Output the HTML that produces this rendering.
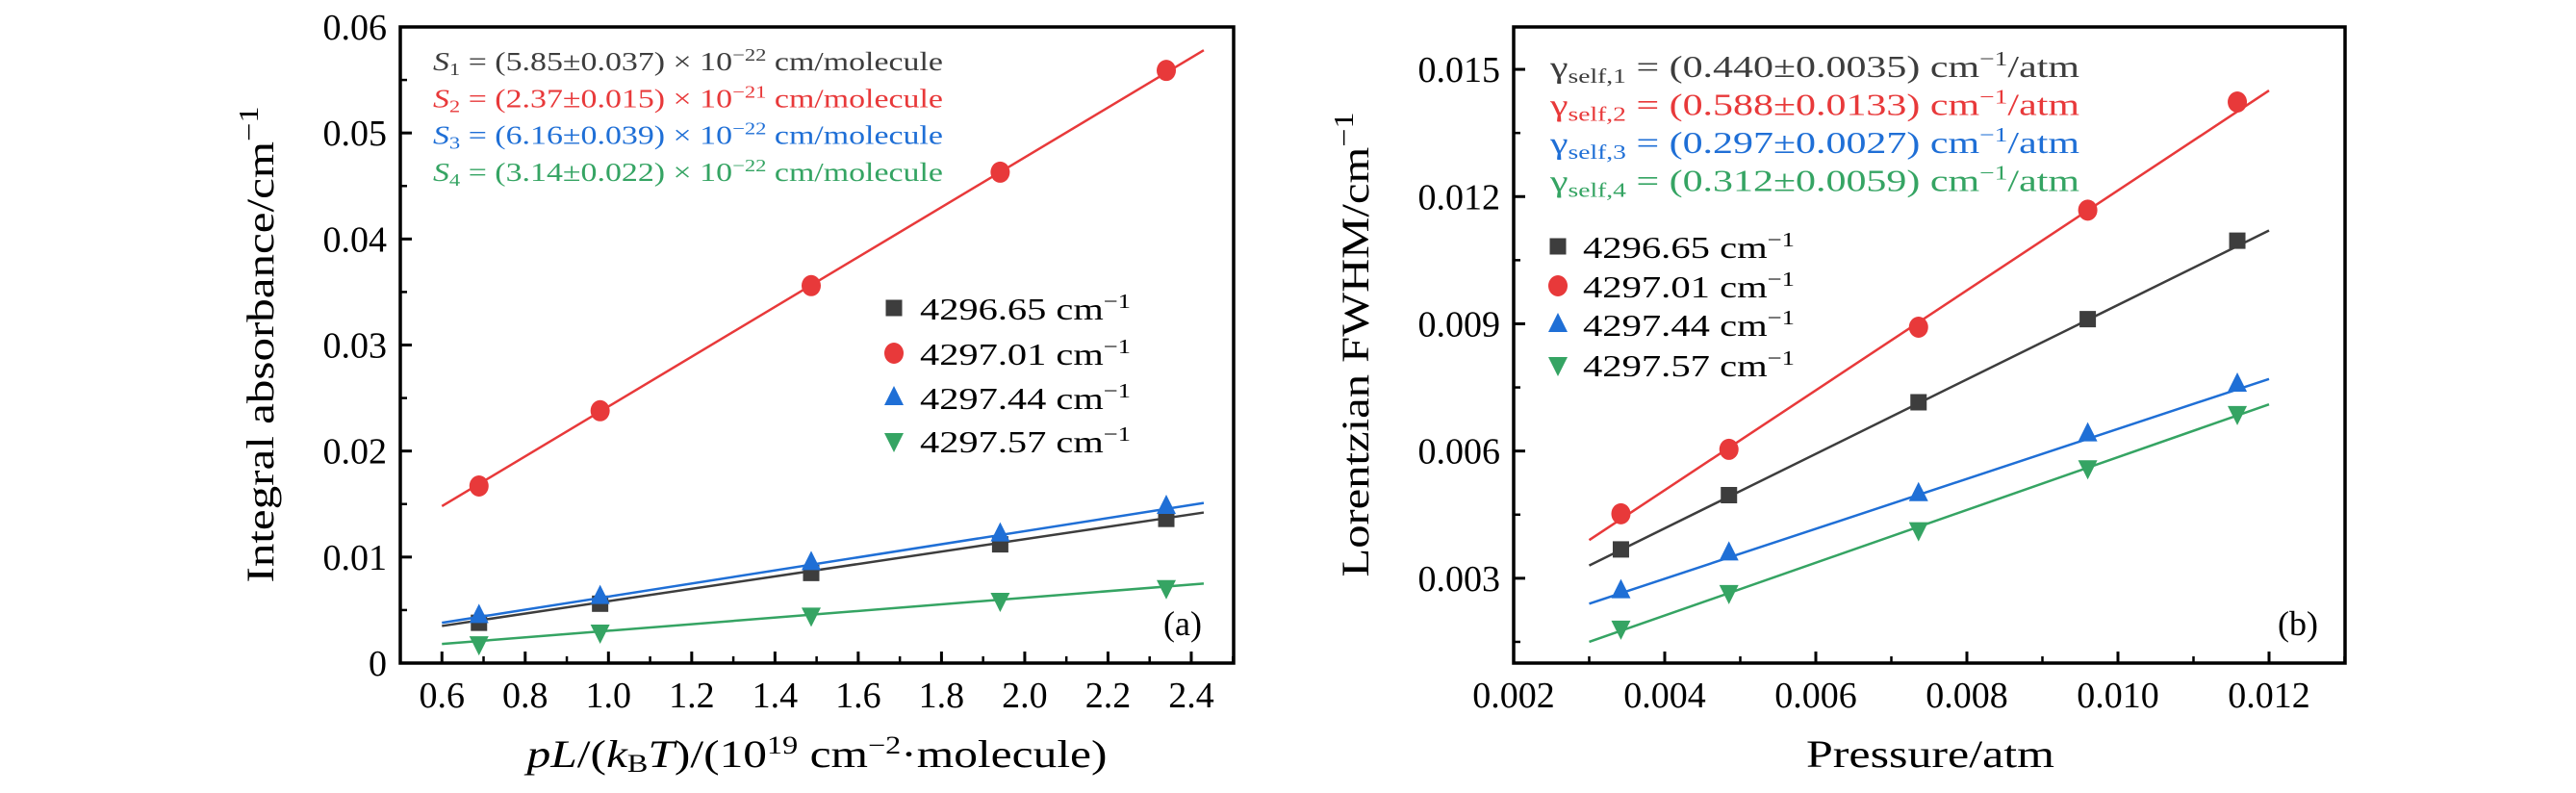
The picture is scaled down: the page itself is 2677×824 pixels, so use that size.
<!DOCTYPE html>
<html><head><meta charset="utf-8"><style>
body{margin:0;background:#fff}
svg text{font-family:"Liberation Serif","DejaVu Serif",serif}
</style></head><body>
<svg id="c" width="2677" height="819" viewBox="0 0 2677 819" xmlns="http://www.w3.org/2000/svg"></svg>
<script>
// Panel (a) data
const aX = [0.689, 0.98, 1.487, 1.941, 2.34];
const aS1 = [0.0038, 0.0056, 0.0085, 0.0112, 0.0136];
const aS2 = [0.0167, 0.0238, 0.0356, 0.0463, 0.0559];
const aS3 = [0.0045, 0.0063, 0.0095, 0.0122, 0.0148];
const aS4 = [0.0018, 0.0029, 0.0045, 0.0059, 0.0071];
const aFitX = [0.6, 2.43];
const aFit1 = [0.0035, 0.0142];
const aFit2 = [0.0148, 0.0578];
const aFit3 = [0.0038, 0.0151];
const aFit4 = [0.0018, 0.0075];
const aXTicks = ["0.6","0.8","1.0","1.2","1.4","1.6","1.8","2.0","2.2","2.4"];
const aYTicks = ["0","0.01","0.02","0.03","0.04","0.05","0.06"];
// Panel (b) data
const bX = [0.00342, 0.00485, 0.00736, 0.0096, 0.01158];
const bS1 = [0.00368, 0.00496, 0.00715, 0.00911, 0.01096];
const bS2 = [0.00452, 0.00604, 0.00892, 0.01168, 0.01423];
const bS3 = [0.00271, 0.0036, 0.005, 0.00641, 0.00758];
const bS4 = [0.00182, 0.00266, 0.00414, 0.0056, 0.00688];
const bFitX = [0.003, 0.012];
const bFit1 = [0.0033, 0.0112];
const bFit2 = [0.0039, 0.0145];
const bFit3 = [0.0024, 0.0077];
const bFit4 = [0.0015, 0.0071];
const bXTicks = ["0.002","0.004","0.006","0.008","0.010","0.012"];
const bYTicks = ["0.003","0.006","0.009","0.012","0.015"];

const NS="http://www.w3.org/2000/svg";
const svg=document.getElementById('c');
const COL=['#3d3d3d','#e8393a','#1f6fd6','#35a463'];
function mk(tag,attrs,parent){const e=document.createElementNS(NS,tag);for(const k in attrs)e.setAttribute(k,attrs[k]);(parent||svg).appendChild(e);return e;}

function panel(p){
  const g=mk('g',{});
  
  
  const sx=v=>p.L+(v-p.x0)/(p.x1-p.x0)*(p.R-p.L);
  const sy=v=>p.B-(v-p.y0)/(p.y1-p.y0)*(p.B-p.T);
  p.xt.forEach(t=>{const v=parseFloat(t);const x=sx(v);
    const l=mk('line',{x1:x,x2:x,y1:p.B,y2:p.B-12,stroke:'#000','stroke-width':3},g);
    
    const tx=mk('text',{x:x,y:p.B+46,'font-size':38,'text-anchor':'middle'},g);tx.textContent=t;
    
  });
  for(let v=p.x0+p.xm;v<p.x1;v+=p.xm){const x=sx(v);mk('line',{x1:x,x2:x,y1:p.B,y2:p.B-7,stroke:'#000','stroke-width':2.5},g);}
  p.yt.forEach(t=>{const v=parseFloat(t);const y=sy(v);
    const l=mk('line',{x1:p.L,x2:p.L+12,y1:y,y2:y,stroke:'#000','stroke-width':3},g);
    
    const tx=mk('text',{x:p.L-14,y:y+13,'font-size':38,'text-anchor':'end'},g);tx.textContent=t;
    
  });
  for(let v=p.ym0;v<p.y1;v+=p.ym){const y=sy(v);mk('line',{x1:p.L,x2:p.L+7,y1:y,y2:y,stroke:'#000','stroke-width':2.5},g);}
  p.series.forEach((s,i)=>{
    const l=mk('line',{x1:sx(p.fx[0]),y1:sy(s.fit[0]),x2:sx(p.fx[1]),y2:sy(s.fit[1]),stroke:COL[i],'stroke-width':2.5},g);
    
    s.v.forEach((v,j)=>{const x=sx(p.px[j]),y=sy(v);marker(g,i,x,y,10,'point-s'+(i+1));});
  });
  const r=mk('rect',{x:p.L,y:p.T,width:p.R-p.L,height:p.B-p.T,fill:'none',stroke:'#000','stroke-width':3.5},g);
  
  return g;
}
function marker(g,i,x,y,r,name){let m;
  if(i===0)m=mk('rect',{x:x-r*0.85,y:y-r*0.85,width:r*1.7,height:r*1.7,fill:COL[0]},g);
  else if(i===1)m=mk('ellipse',{cx:x,cy:y,rx:r,ry:r*1.1,fill:COL[1]},g);
  else if(i===2)m=mk('polygon',{points:`${x},${y-r*1.2} ${x-r},${y+r*0.8} ${x+r},${y+r*0.8}`,fill:COL[2]},g);
  else m=mk('polygon',{points:`${x},${y+r*1.2} ${x-r},${y-r*0.8} ${x+r},${y-r*0.8}`,fill:COL[3]},g);
  }
function txt(html,x,y,size,color,anchor,name,rot,len){
  const t=mk('text',{x:x,y:y,'font-size':size,fill:color||'#000','text-anchor':anchor||'start'});
  if(rot)t.setAttribute('transform',`rotate(-90 ${x} ${y})`);
  if(len){t.setAttribute('textLength',len);t.setAttribute('lengthAdjust','spacingAndGlyphs');}
  t.innerHTML=html;
  return t;}

panel({name:'panel-a',L:416,R:1282,T:28,B:689,x0:0.5,x1:0.6+(1282-461)/431.7,y0:0,y1:0.06,
  xt:aXTicks,xm:0.1,yt:aYTicks,ym0:0.005,ym:0.01,px:aX,fx:aFitX,
  series:[{v:aS1,fit:aFit1},{v:aS2,fit:aFit2},{v:aS3,fit:aFit3},{v:aS4,fit:aFit4}]});
panel({name:'panel-b',L:1573,R:2437,T:28,B:689,x0:0.002,x1:0.002+864/78500,y0:0.001,y1:0.016,
  xt:bXTicks,xm:0.001,yt:bYTicks,ym0:0.0015,ym:0.003,px:bX,fx:bFitX,
  series:[{v:bS1,fit:bFit1},{v:bS2,fit:bFit2},{v:bS3,fit:bFit3},{v:bS4,fit:bFit4}]});

const sVals=[['1','5.85±0.037','22'],['2','2.37±0.015','21'],['3','6.16±0.039','22'],['4','3.14±0.022','22']];
sVals.forEach((s,i)=>txt(`<tspan font-style="italic">S</tspan><tspan font-size="18" dy="5">${s[0]}</tspan><tspan dy="-5"> = (${s[1]}) × 10</tspan><tspan font-size="18" dy="-10">−${s[2]}</tspan><tspan dy="10"> cm/molecule</tspan>`,450,73+i*38.3,27,COL[i],'start','annotation-s'+(i+1),false,530));
const gVals=['0.440±0.0035','0.588±0.0133','0.297±0.0027','0.312±0.0059'];
gVals.forEach((s,i)=>txt(`γ<tspan font-size="21" dy="6">self,${i+1}</tspan><tspan dy="-6"> = (${s}) cm</tspan><tspan font-size="21" dy="-12">−1</tspan><tspan dy="12">/atm</tspan>`,1611,80+i*39.5,32,COL[i],'start','annotation-gamma'+(i+1),false,550));
const legN=['4296.65','4297.01','4297.44','4297.57'];
const lgA=mk('g',{});
legN.forEach((n,i)=>{const y=[320,367,413,458][i];marker(lgA,i,929,y,10,'legend-marker-a');
  txt(`${n} cm<tspan font-size="21" dy="-12">−1</tspan>`,956,y+12,32,'#000','start','legend-entry-a'+(i+1),false,219);});
const lgB=mk('g',{});
legN.forEach((n,i)=>{const y=[256,297,337,379][i];marker(lgB,i,1619,y,10,'legend-marker-b');
  txt(`${n} cm<tspan font-size="21" dy="-12">−1</tspan>`,1645,y+12,32,'#000','start','legend-entry-b'+(i+1),false,220);});
txt('(a)',1229,660,36,'#000','middle','panel-label-a');
txt('(b)',2388,660,36,'#000','middle','panel-label-b');
txt(`<tspan font-style="italic">pL</tspan>/(<tspan font-style="italic">k</tspan><tspan font-size="26" dy="5">B</tspan><tspan dy="-5" font-style="italic">T</tspan>)/(10<tspan font-size="26" dy="-14">19</tspan><tspan dy="14"> cm</tspan><tspan font-size="26" dy="-14">−2</tspan><tspan dy="14">·molecule)</tspan>`,849,797,40,'#000','middle','x-axis-title-a',false,603);
txt('Pressure/atm',2006,797,40,'#000','middle','x-axis-title-b',false,258);
txt(`Integral absorbance/cm<tspan font-size="28" dy="-16">−1</tspan>`,284,358,40,'#000','middle','y-axis-title-a',true,495);
txt(`Lorentzian FWHM/cm<tspan font-size="28" dy="-16">−1</tspan>`,1422,358,40,'#000','middle','y-axis-title-b',true,483);
</script>
</body></html>
